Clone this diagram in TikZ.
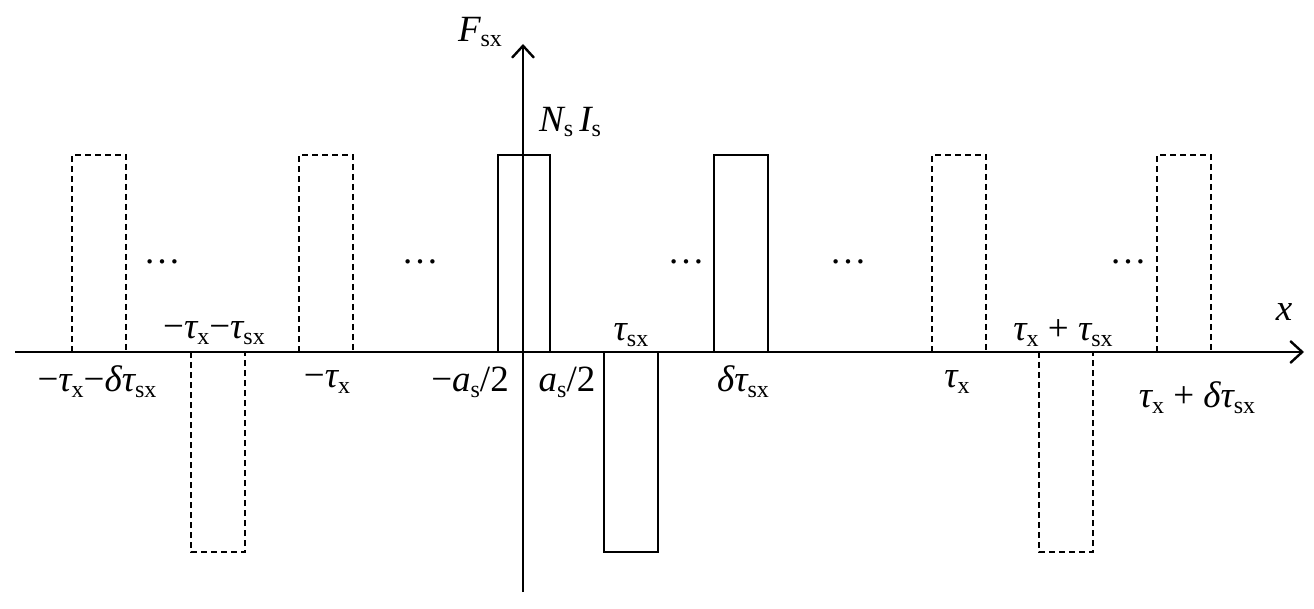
\documentclass[tikz,border=0pt]{standalone}
\usepackage{fontspec}
\setmainfont{Liberation Serif}
\usetikzlibrary{arrows.meta}
\newcommand\sbs[1]{\raisebox{-0.35ex}{\fontsize{24}{24}\selectfont #1}}
\newcommand\itx[1]{{\itshape #1}}
\begin{document}
\begin{tikzpicture}[x=1pt,y=-1pt,
  solidbox/.style={line width=2.4pt},
  dashbox/.style={line width=2.4pt,dash pattern=on 6pt off 4pt},
  axis/.style={line width=2.4pt,-{Straight Barb[length=12pt,width=22pt,line width=2.4pt]}},
  lab/.style={font=\fontsize{37}{42}\selectfont,inner sep=0pt}]
\useasboundingbox (0,0) rectangle (1314,609);
\coordinate (xs) at (15,352); \coordinate (xe) at (1304,352);
\coordinate (ys) at (523,592); \coordinate (ye) at (523,44);
\draw[axis] (xs) -- (xe);
\draw[axis] (ys) -- (ye);
\foreach \a/\b in {72/126,299/353,932/986,1157/1211} \draw[dashbox] (\a,352) -- (\a,155) -- (\b,155) -- (\b,352);
\foreach \a/\b in {191/245,1039/1093} \draw[dashbox] (\a,352) -- (\a,552) -- (\b,552) -- (\b,352);
\foreach \a/\b in {498/550,714/768} \draw[solidbox] (\a,352) -- (\a,155) -- (\b,155) -- (\b,352);
\draw[solidbox] (604,352) -- (604,552) -- (658,552) -- (658,352);
\foreach \p [count=\i] in {162,420,686,848,1128} \node[lab] (d\i) at (\p,262) {…};
\node[lab] (l1) at (97,382) {−\itx{τ}\sbs{x}−\itx{δτ}\sbs{sx}};
\node[lab] (l2) at (214,333) {−\itx{τ}\sbs{x}−\itx{τ}\sbs{sx}};
\node[lab] (l3) at (327,382) {−\itx{τ}\sbs{x}};
\node[lab] (l4) at (470,382) {−\itx{a}\sbs{s}/2};
\node[lab] (l5) at (567,382) {\itx{a}\sbs{s}/2};
\node[lab] (l6) at (631,335) {\itx{τ}\sbs{sx}};
\node[lab] (l7) at (743,382) {\itx{δτ}\sbs{sx}};
\node[lab] (l8) at (957,382) {\itx{τ}\sbs{x}};
\node[lab] (l9) at (1063,333) {\itx{τ}\sbs{x} + \itx{τ}\sbs{sx}};
\node[lab] (l10) at (1197,398) {\itx{τ}\sbs{x} + \itx{δτ}\sbs{sx}};
\node[lab] (fy) at (480,32) {\itx{F}\sbs{sx}};
\node[lab] (ni) at (570,122) {\itx{N}\sbs{s}\,\itx{I}\sbs{s}};
\node[lab] (xl) at (1284,312) {\itx{x}};
\end{tikzpicture}
\end{document}
